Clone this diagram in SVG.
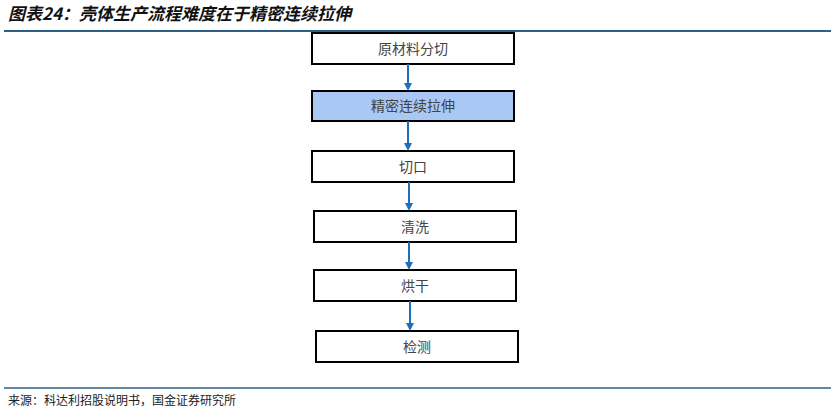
<svg xmlns="http://www.w3.org/2000/svg" width="831" height="413" viewBox="0 0 831 413">
<defs>
<marker id="ah" markerWidth="8" markerHeight="8" refX="4" refY="4" orient="auto" markerUnits="userSpaceOnUse"><path d="M0,0 L8,4 L0,8 z" fill="#1f6fb8"/></marker>
<style>
.b{fill:#fff;stroke:#000;stroke-width:2}
.t{font-family:"Noto Sans CJK SC",sans-serif;font-size:14px;fill:#444;text-anchor:middle}
.c{stroke:#1f6fb8;stroke-width:2;fill:none;marker-end:url(#ah)}
</style>
</defs>
<rect width="831" height="413" fill="#fff"/>
<text x="8" y="20" font-family="Noto Sans CJK SC,sans-serif" font-size="17" font-style="italic" font-weight="bold" fill="#111">图表24：壳体生产流程难度在于精密连续拉伸</text>
<line x1="4" y1="31" x2="831" y2="31" stroke="#2e5f85" stroke-width="2"/>
<g id="n1"><rect class="b" x="312" y="33" width="202" height="31"/><text class="t" x="413" y="54">原材料分切</text></g>
<g id="n2"><rect class="b" x="312" y="91" width="202" height="30" style="fill:#a9c8f3"/><text class="t" x="413" y="111">精密连续拉伸</text></g>
<g id="n3"><rect class="b" x="312" y="151" width="202" height="31"/><text class="t" x="413" y="172">切口</text></g>
<g id="n4"><rect class="b" x="314" y="211" width="202" height="31"/><text class="t" x="415" y="232">清洗</text></g>
<g id="n5"><rect class="b" x="314" y="270" width="202" height="31"/><text class="t" x="415" y="291">烘干</text></g>
<g id="n6"><rect class="b" x="316" y="331" width="202" height="31"/><text class="t" x="417" y="352">检测</text></g>
<g id="connectors">
<line class="c" x1="408" y1="64" x2="408" y2="87"/>
<line class="c" x1="408" y1="121" x2="408" y2="147"/>
<line class="c" x1="409" y1="182" x2="409" y2="207"/>
<line class="c" x1="409" y1="242" x2="409" y2="266"/>
<line class="c" x1="410" y1="301" x2="410" y2="327"/>
</g>
<line x1="4" y1="388" x2="831" y2="388" stroke="#2e5f85" stroke-width="1.5"/>
<text x="8" y="405" font-family="Noto Sans CJK SC,sans-serif" font-size="12" fill="#222">来源：科达利招股说明书，国金证券研究所</text>
</svg>
